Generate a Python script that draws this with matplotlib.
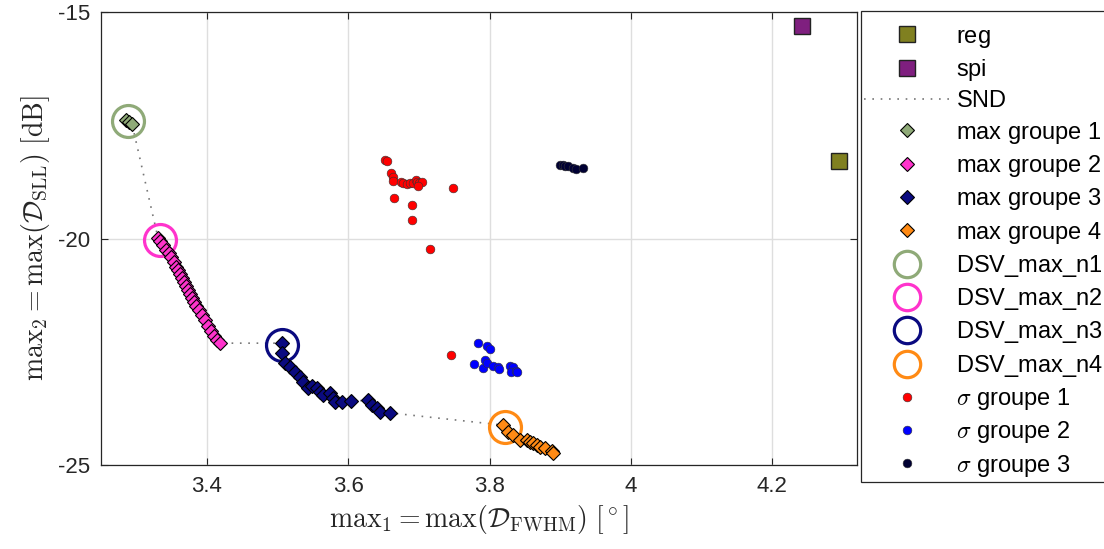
import matplotlib
matplotlib.use("Agg")
import matplotlib.pyplot as plt
import numpy as np

plt.rcParams['font.family'] = ['Liberation Sans', 'DejaVu Sans']
plt.rcParams['mathtext.fontset'] = 'cm'
plt.rcParams['axes.unicode_minus'] = False

# ---- data ----
reg_x = [4.295]
reg_y = [-18.29]
spi_x = [4.2415]
spi_y = [-15.31]

g1_x = [3.2854, 3.2897, 3.2939]
g1_y = [-17.38, -17.43, -17.47]

g2_x = [3.3307, 3.3336, 3.3378, 3.3421, 3.3463, 3.3492, 3.3534, 3.3562, 3.3591,
        3.3619, 3.3647, 3.3676, 3.3704, 3.3732, 3.3761, 3.3789, 3.3817, 3.3846,
        3.3888, 3.3931, 3.3973, 3.4016, 3.4058, 3.4101, 3.4143, 3.4186]
g2_y = [-19.99, -20.06, -20.14, -20.25, -20.32, -20.41, -20.52, -20.63, -20.70,
        -20.78, -20.87, -20.96, -21.05, -21.14, -21.23, -21.31, -21.40, -21.49,
        -21.58, -21.69, -21.80, -21.93, -22.04, -22.15, -22.24, -22.31]

g3_x = [3.5064, 3.5064, 3.5106, 3.5177, 3.5248, 3.5319, 3.5361, 3.5432, 3.5489,
        3.5560, 3.5602, 3.5644, 3.5744, 3.5786, 3.5814, 3.5914, 3.6041, 3.6282,
        3.6339, 3.6409, 3.6452, 3.6594]
g3_y = [-22.31, -22.53, -22.75, -22.84, -22.95, -23.06, -23.17, -23.30, -23.26,
        -23.30, -23.39, -23.45, -23.41, -23.52, -23.61, -23.61, -23.59, -23.57,
        -23.68, -23.74, -23.83, -23.85]

g4_x = [3.8194, 3.8265, 3.8336, 3.8435, 3.8534, 3.8577, 3.8619, 3.8676, 3.8718,
        3.8789, 3.8888, 3.8902]
g4_y = [-24.12, -24.27, -24.34, -24.45, -24.45, -24.49, -24.51, -24.56, -24.60,
        -24.62, -24.69, -24.74]

dsv_x = [3.2882, 3.3336, 3.5064, 3.8222]
dsv_y = [-17.41, -20.03, -22.35, -24.15]

s1_x = [3.6523, 3.6551, 3.6608, 3.6636, 3.6636, 3.6749, 3.6778, 3.6834, 3.6877,
        3.6919, 3.6962, 3.6976, 3.7004, 3.7047, 3.6990, 3.6650, 3.6905, 3.6905,
        3.7486, 3.7160, 3.7458]
s1_y = [-18.27, -18.29, -18.55, -18.64, -18.73, -18.75, -18.77, -18.80, -18.77,
        -18.77, -18.71, -18.75, -18.77, -18.75, -18.84, -19.11, -19.26, -19.59,
        -18.89, -20.23, -22.57]

s2_x = [3.7840, 3.7967, 3.8010, 3.7783, 3.7911, 3.7939, 3.7967, 3.8052, 3.8123,
        3.8137, 3.8293, 3.8336, 3.8307, 3.8378, 3.8392]
s2_y = [-22.31, -22.37, -22.44, -22.77, -22.86, -22.68, -22.75, -22.81, -22.84,
        -22.88, -22.81, -22.84, -22.95, -22.92, -22.95]

s3_x = [3.9002, 3.9044, 3.9072, 3.9115, 3.9186, 3.9228, 3.9327]
s3_y = [-18.38, -18.38, -18.40, -18.40, -18.44, -18.47, -18.44]

xticks = [3.4, 3.6, 3.8, 4.0, 4.2]
xtick_labels = ['3.4', '3.6', '3.8', '4', '4.2']
yticks = [-25, -20, -15]
ytick_labels = ['-25', '-20', '-15']

group_colors = ['#8FAA78', '#FF33CC', '#0A0A80', '#FF8A14']

# ---- figure ----
fig = plt.figure(figsize=(11.04, 5.49), dpi=100)
ax = fig.add_axes([0.0915, 0.153, 0.6848, 0.825])

M = r'$\,$'  # uniform row height for all legend entries

handles = []
h, = ax.plot(reg_x, reg_y, 's', ms=12, mfc='#808020', mec='#222222', mew=1.0, ls='none', label='reg' + M, zorder=5)
handles.append(h)
h, = ax.plot(spi_x, spi_y, 's', ms=12, mfc='#7F1F7F', mec='#222222', mew=1.0, ls='none', label='spi' + M, zorder=5)
handles.append(h)

snd_x = g1_x + g2_x + g3_x + g4_x
snd_y = g1_y + g2_y + g3_y + g4_y
h, = ax.plot(snd_x, snd_y, ls=(0, (1, 4)), color='#777777', lw=1.2, label='SND' + M, zorder=2)
handles.append(h)

dia_h = []
for i, (gx, gy) in enumerate([(g1_x, g1_y), (g2_x, g2_y), (g3_x, g3_y), (g4_x, g4_y)]):
    h, = ax.plot(gx, gy, 'D', ms=7.3, mfc=group_colors[i], mec='black', mew=0.8,
                 ls='none', label='max groupe %d' % (i + 1) + M, zorder=4)
    dia_h.append(h)

circ_h = []
for i in range(4):
    h, = ax.plot([dsv_x[i]], [dsv_y[i]], 'o', ms=23, mfc='none', mec=group_colors[i],
                 mew=2.3, ls='none', label='DSV_max_n%d' % (i + 1) + M, zorder=3)
    circ_h.append(h)
handles += dia_h + circ_h

sig_colors = ['#FF0000', '#0000FF', '#000033']
for i, (sx, sy) in enumerate([(s1_x, s1_y), (s2_x, s2_y), (s3_x, s3_y)]):
    h, = ax.plot(sx, sy, 'o', ms=6.3, mfc=sig_colors[i], mec='#333333', mew=0.4,
                 ls='none', label=r'$\sigma$ groupe %d' % (i + 1), zorder=4)
    handles.append(h)

ax.set_xlim(3.25, 4.32)
ax.set_ylim(-25, -15)
ax.set_xticks(xticks)
ax.set_xticklabels(xtick_labels)
ax.set_yticks(yticks)
ax.set_yticklabels(ytick_labels)
ax.grid(True, color='#DEDEDE', lw=1.0)
ax.set_axisbelow(True)
ax.tick_params(direction='in', length=5, width=0.8, colors='#262626',
               labelsize=16, top=True, right=True, pad=8)
for s in ax.spines.values():
    s.set_color('#262626')
    s.set_linewidth(0.9)

ax.set_xlabel(r'$\mathrm{max}_1 = \mathrm{max}(\mathcal{D}_{\mathrm{FWHM}})\ [^\circ]$',
              fontsize=20, color='#262626', labelpad=4)
ax.set_ylabel(r'$\mathrm{max}_2 = \mathrm{max}(\mathcal{D}_{\mathrm{SLL}})\ [\mathrm{dB}]$',
              fontsize=20, color='#262626', labelpad=4)

leg = fig.legend(handles=handles, loc='upper left', bbox_to_anchor=(0.780, 0.980),
                 fontsize=17, frameon=True, fancybox=False, framealpha=1,
                 edgecolor='#262626', handlelength=3.6, handletextpad=0.27,
                 borderpad=0.14, labelspacing=0.31, borderaxespad=0,
                 title=' ', title_fontsize=2.5)
leg.get_frame().set_linewidth(0.9)
for lh in leg.legend_handles[7:11]:
    lh.set_markersize(19)

fig.savefig('out.png', dpi=100)
